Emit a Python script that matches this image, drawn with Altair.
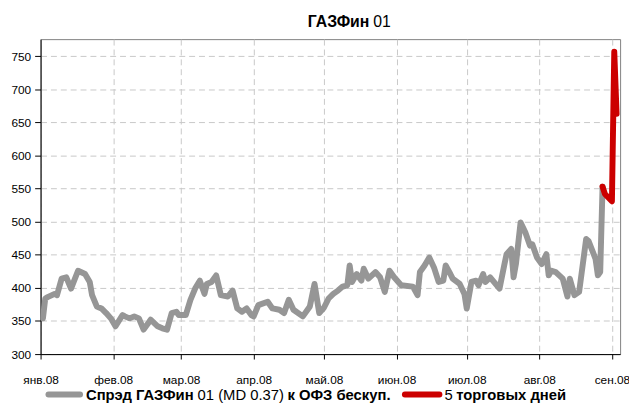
import altair as alt
import pandas as pd

# ---------------- data ----------------
spread_dates = [
    "2008-01-02", "2008-01-03", "2008-01-04", "2008-01-07", "2008-01-08", "2008-01-10",
    "2008-01-12", "2008-01-14", "2008-01-17", "2008-01-20", "2008-01-22", "2008-01-23",
    "2008-01-25", "2008-01-27", "2008-01-29", "2008-01-31", "2008-02-02", "2008-02-05",
    "2008-02-06", "2008-02-08", "2008-02-10", "2008-02-12", "2008-02-14", "2008-02-17",
    "2008-02-20", "2008-02-22", "2008-02-24", "2008-02-26", "2008-02-28", "2008-02-29",
    "2008-03-03", "2008-03-05", "2008-03-07", "2008-03-09", "2008-03-11", "2008-03-12",
    "2008-03-14", "2008-03-16", "2008-03-18", "2008-03-21", "2008-03-23", "2008-03-25",
    "2008-03-27", "2008-03-29", "2008-03-31", "2008-04-01", "2008-04-03", "2008-04-07",
    "2008-04-09", "2008-04-12", "2008-04-14", "2008-04-16", "2008-04-18", "2008-04-22",
    "2008-04-25", "2008-04-27", "2008-04-29", "2008-05-01", "2008-05-03", "2008-05-05",
    "2008-05-07", "2008-05-09", "2008-05-11", "2008-05-12", "2008-05-13", "2008-05-15",
    "2008-05-17", "2008-05-18", "2008-05-20", "2008-05-23", "2008-05-25", "2008-05-27",
    "2008-05-29", "2008-05-31", "2008-06-03", "2008-06-08", "2008-06-10", "2008-06-11",
    "2008-06-13", "2008-06-15", "2008-06-17", "2008-06-19", "2008-06-21", "2008-06-22",
    "2008-06-24", "2008-06-25", "2008-06-28", "2008-06-30", "2008-07-01", "2008-07-03",
    "2008-07-05", "2008-07-06", "2008-07-08", "2008-07-09", "2008-07-11", "2008-07-15",
    "2008-07-17", "2008-07-18", "2008-07-20", "2008-07-21", "2008-07-22", "2008-07-24",
    "2008-07-26", "2008-07-28", "2008-07-29", "2008-07-31", "2008-08-02", "2008-08-04",
    "2008-08-05", "2008-08-06", "2008-08-08", "2008-08-11", "2008-08-13", "2008-08-14",
    "2008-08-16", "2008-08-18", "2008-08-21", "2008-08-22", "2008-08-25", "2008-08-26",
    "2008-08-27", "2008-08-28",
]
spread_values = [
    354, 384, 386, 391, 389, 414,
    416, 399, 426, 421, 409, 389,
    372, 369, 362, 354, 342, 359,
    357, 354, 357, 354, 337, 352,
    342, 339, 337, 362, 364, 359,
    359, 382, 399, 411, 391, 406,
    409, 419, 389, 387, 396, 369,
    364, 369, 359, 357, 374, 379,
    369, 367, 362, 382, 367, 357,
    372, 406, 362, 370, 384, 391,
    396, 402, 404, 434, 409, 421,
    411, 429, 414, 424, 416, 394,
    426, 416, 404, 402, 389, 424,
    434, 446, 431, 409, 411, 434,
    421, 414, 406, 391, 369, 409,
    411, 404, 421, 409, 416, 399,
    434, 451, 459, 416, 436, 499,
    484, 464, 466, 446, 436, 451,
    419, 426, 424, 414, 387, 414,
    389, 394, 474, 471, 444, 419,
    424, 553,
]
recent_dates = ["2008-08-28", "2008-08-29", "2008-09-01", "2008-09-02", "2008-09-03"]
recent_values = [553, 542, 531, 757, 663]

month_labels = ["янв.08", "фев.08", "мар.08", "апр.08", "май.08", "июн.08", "июл.08", "авг.08", "сен.08"]
y_ticks = [300, 350, 400, 450, 500, 550, 600, 650, 700, 750]
y_domain = [300, 776]

title_bold = "ГАЗФин"
title_regular = "01"
legend_parts = ["Спрэд ГАЗФин", "01 (MD 0.37)", "к ОФЗ бескуп.", "5", "торговых дней"]

FONT = "Liberation Sans, Arial, sans-serif"
GRAY = "#969696"
RED = "#cc0000"

df_gray = pd.DataFrame({"date": spread_dates, "value": spread_values})
df_red = pd.DataFrame({"date": recent_dates, "value": recent_values})

x_scale = alt.Scale(
    type="utc",
    domain=[alt.DateTime(year=2008, month=1, date=1, utc=True),
            alt.DateTime(year=2008, month=9, date=4, hours=12, utc=True)],
)
y_scale = alt.Scale(domain=y_domain, nice=False, zero=False)

tick_values = [alt.DateTime(year=2008, month=m, date=1, utc=True) for m in range(1, 10)]
label_array = "[" + ",".join("'" + s + "'" for s in month_labels) + "]"

def x_axis():
    return alt.Axis(
        values=tick_values,
        labelExpr=label_array + "[utcmonth(datum.value)]",
        title=None, grid=True, tickSize=5, labelPadding=16,
        labelOverlap=False, labelFlush=False,
    )

def y_axis():
    return alt.Axis(values=y_ticks, title=None, grid=True, tickSize=6, labelPadding=4,
                    labelOverlap=False, labelFlush=False)

gray_line = alt.Chart(df_gray).mark_line(
    color=GRAY, strokeWidth=6, strokeJoin="round", strokeCap="round", clip=True
).encode(
    x=alt.X("date:T", scale=x_scale, axis=x_axis()),
    y=alt.Y("value:Q", scale=y_scale, axis=y_axis()),
)
red_line = alt.Chart(df_red).mark_line(
    color=RED, strokeWidth=6, strokeJoin="round", strokeCap="round", clip=True
).encode(
    x=alt.X("date:T", scale=x_scale, axis=x_axis()),
    y=alt.Y("value:Q", scale=y_scale, axis=y_axis()),
)

def txt(s, x, y, bold, align="left", size=15):
    return alt.Chart(pd.DataFrame({"t": [s]})).mark_text(
        font=FONT, fontSize=size, fontWeight="bold" if bold else "normal",
        align=align, baseline="middle", color="black",
    ).encode(x=alt.value(x), y=alt.value(y), text="t:N")

def seg(x1, x2, y, color):
    return alt.Chart(pd.DataFrame({"a": [0]})).mark_rule(
        color=color, strokeWidth=6, strokeCap="round"
    ).encode(x=alt.value(x1), x2=alt.value(x2), y=alt.value(y))

LY = 360
layers = [
    gray_line, red_line,
    txt(title_bold, 333, -17, True, "right", 16),
    txt(title_regular, 337, -17, False, "left", 16),
    seg(8, 40, LY, GRAY),
    txt(legend_parts[0], 46, LY, True),
    txt(legend_parts[1], 159, LY, False),
    txt(legend_parts[2], 250, LY, True),
    seg(369, 404, LY, RED),
    txt(legend_parts[3], 409, LY, False),
    txt(legend_parts[4], 421, LY, True),
]

chart = alt.layer(*layers).properties(
    width=587,
    height=319,
    autosize=alt.AutoSizeParams(type="none"),
    padding={"left": 33, "top": 29, "right": 9, "bottom": 47},
).configure_view(
    stroke="#808080", strokeWidth=1
).configure_axis(
    labelFont=FONT, labelFontSize=12, labelColor="black",
    domainColor="black", domainWidth=1, tickColor="black", tickWidth=1,
    gridColor="#c8c8c8", gridDash=[6, 4], gridWidth=1,
)

chart.save("out.html", embed_options={"renderer": "svg", "actions": False})
